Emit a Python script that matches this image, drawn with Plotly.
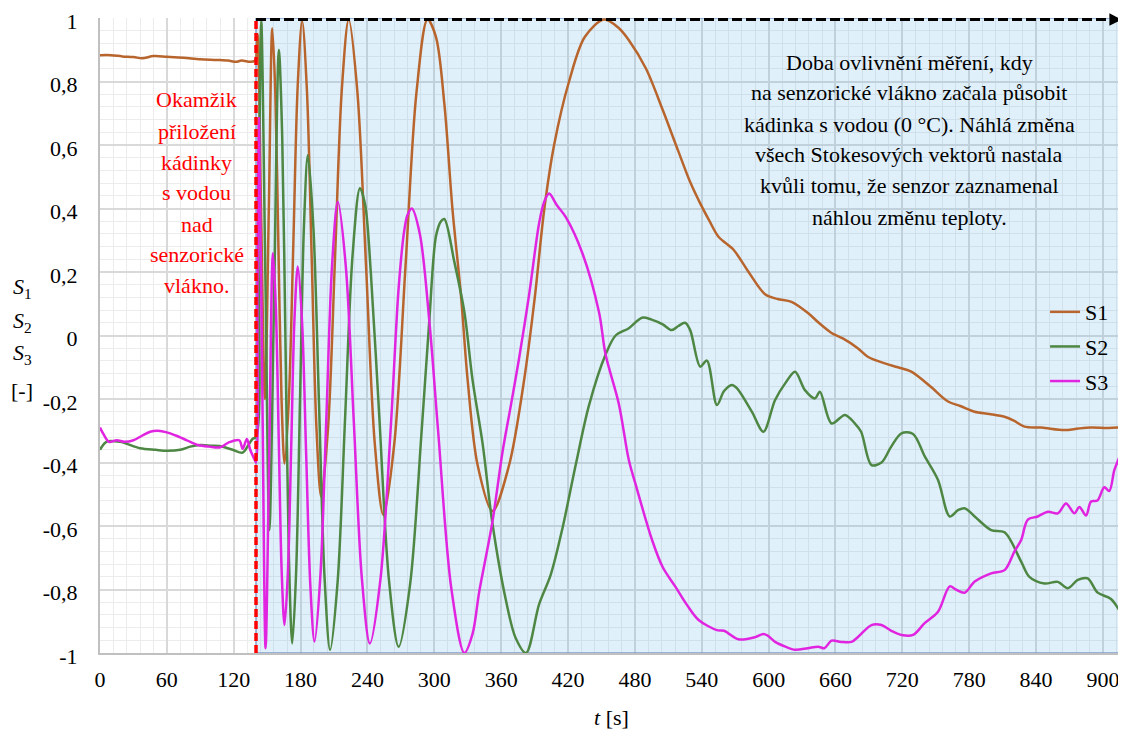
import plotly.graph_objects as go

# ---------------- data ----------------
t_s1 = [0, 10, 20, 30, 38, 48, 60, 75, 90, 105, 115, 122, 127, 135, 139,
        140, 141.5, 144.5, 148, 151.5, 154.6, 157.3, 160.1, 162.9, 165.6, 169.5, 173.5, 177.4,
        181.4, 185.7, 190, 194.2, 198.5, 204.7, 210.9, 217, 223.2, 231, 238.8, 246.5,
        254.3, 264.2, 274.1, 284, 293.9, 301.5, 309, 316.4, 323.9, 329.9, 338.8,
        352.2, 367.2, 380.6, 390.4, 398.5, 407.5, 420.9, 435, 452.2, 465, 474.6,
        490, 505, 519, 530, 538.6, 547, 555, 568.5, 582, 596.8, 608, 620.5, 635.6, 645, 656.4,
        667, 680, 689, 704.3, 716, 728, 745, 761, 772, 784.9, 798, 811.7, 820, 829.6,
        845, 865.4, 878, 889, 905, 918]
s1 = [0.883, 0.883, 0.879, 0.877, 0.873, 0.880, 0.878, 0.875, 0.870, 0.868, 0.866, 0.862, 0.866, 0.862, 0.865,
      0.87, 0.95, 0.40, -0.20, 0.40, 0.968, 0.767, 0.28, -0.20, -0.403, -0.199, 0.29, 0.786,
      0.99, 0.771, 0.241, -0.289, -0.508, -0.288, 0.244, 0.775, 0.995, 0.766, 0.215, -0.337,
      -0.565, -0.337, 0.215, 0.766, 0.995, 0.94, 0.73, 0.393, 0.127, -0.14, -0.407,
      -0.553, -0.407, -0.14, 0.127, 0.393, 0.6, 0.8, 0.94, 0.995, 0.97, 0.93,
      0.84, 0.71, 0.58, 0.48, 0.416, 0.36, 0.311, 0.27, 0.2, 0.13, 0.115, 0.106, 0.07, 0.04, 0.008,
      -0.01, -0.04, -0.067, -0.088, -0.10, -0.114, -0.16, -0.208, -0.222, -0.24, -0.247, -0.256, -0.268, -0.287,
      -0.29, -0.298, -0.293, -0.29, -0.291, -0.289]

t_s2 = [0, 6, 18, 36, 50, 60, 72, 81, 90, 100, 107, 119, 128, 134, 137,
        140, 142.3, 144.7, 148.4, 152, 156.3, 160.5, 163.5, 166.5, 169.5,
        172.5, 176, 179.5, 183, 186.5, 191.5, 196.5, 201.5, 206.5, 213.2,
        219.9, 226.6, 233.3, 238, 243, 250.7, 259.3, 268, 278.3, 288.5,
        295.5, 301.5, 306, 309, 317.9, 327, 334.3, 343.3, 352.2, 364.2,
        373, 382.3, 394, 404.5, 415, 426.9, 438.8, 453.7, 462.7, 474.6,
        486.4, 495, 505, 513, 519, 525, 529.6, 538.6, 544.6, 553.6,
        560, 567, 571.5, 584.9, 595.3, 605.8, 615, 623.7, 632.6, 641.6,
        646, 656.5, 668.5, 677.4, 683, 692.3, 701.3, 710, 719.2, 729.6,
        740, 752, 762.5, 770, 775.9, 784.9, 799.7, 811.7, 826.6, 834,
        847.5, 859.5, 868.4, 877.4, 886.3, 895.3, 907.2, 918]
s2 = [-0.36, -0.334, -0.335, -0.355, -0.36, -0.363, -0.36, -0.35, -0.345, -0.347, -0.348, -0.36, -0.369, -0.34, -0.325,
      -0.32, 0.33, 0.99, 0.19, -0.613, 0.14, 0.90, 0.626, -0.035, -0.696,
      -0.97, -0.745, -0.201, 0.343, 0.568, 0.34, -0.211, -0.762, -0.99, -0.777,
      -0.263, 0.251, 0.464, 0.41, 0.2, -0.26, -0.77, -0.98, -0.783, -0.307,
      0.047, 0.313, 0.36, 0.367, 0.233, 0.073, -0.14, -0.34, -0.593, -0.833,
      -0.953, -1.0, -0.847, -0.753, -0.607, -0.407, -0.22, -0.06, 0.0, 0.023,
      0.056, 0.05, 0.035, 0.017, 0.03, 0.04, 0.017, -0.098, -0.079, -0.219,
      -0.175, -0.156, -0.166, -0.24, -0.303, -0.203, -0.15, -0.114, -0.172, -0.198,
      -0.177, -0.277, -0.25, -0.277, -0.303, -0.408, -0.4, -0.35, -0.308, -0.31,
      -0.38, -0.455, -0.57, -0.55, -0.544, -0.57, -0.613, -0.62, -0.712, -0.76,
      -0.781, -0.776, -0.796, -0.77, -0.765, -0.81, -0.83, -0.886]

t_s3 = [0, 3, 8, 15, 22, 30, 38, 45, 52, 60, 68, 78, 88, 98, 108, 116, 125, 128, 131.8, 134.8, 138.6,
        140, 141.3, 142.6, 145.6, 148.6, 151.9, 155.2, 157.8, 160.4, 163,
        165.6, 168.6, 171.6, 174.5, 177.5, 181.3, 185, 188.8, 192.5, 197.7,
        203, 208.2, 213.4, 220.6, 227.8, 235, 242.2, 251.6, 261, 268,
        273, 276, 279.8, 287, 295.5, 303.4, 315.2, 327, 334.3, 340.3,
        352, 361.2, 368.7, 376, 385, 394, 398.5, 403, 410, 418,
        432.8, 447.8, 453.7, 465.5, 474.6, 480.4, 495.4, 505, 516.3, 527,
        537.2, 553.6, 560, 573, 588, 595.3, 599, 605.8, 615, 623.7,
        635, 644.5, 650, 656.5, 665, 674.4, 680.4, 692.3, 701.3, 710,
        719.2, 729.6, 740, 752, 762.5, 768, 775.9, 784.9, 799.7, 811.7,
        820.6, 826.6, 832.6, 841.5, 850.5, 859.5, 866.9, 874.4, 878.9, 884.8,
        889.3, 895, 901.2, 905.7, 910.2, 914, 918]
s3 = [-0.29, -0.31, -0.335, -0.33, -0.335, -0.33, -0.315, -0.303, -0.30, -0.305, -0.315, -0.33, -0.345, -0.35,
      -0.352, -0.336, -0.33, -0.357, -0.326, -0.36, -0.39,
      -0.40, 0.14, 0.684, -0.15, -0.985, -0.363, 0.259, 0.087, -0.327, -0.74,
      -0.912, -0.747, -0.348, 0.052, 0.217, 0.044, -0.374, -0.791, -0.964, -0.761,
      -0.272, 0.218, 0.421, 0.217, -0.275, -0.766, -0.97, -0.77, -0.285, 0.15,
      0.33, 0.38, 0.40, 0.32, 0.047, -0.3, -0.795, -1.0, -0.94, -0.807,
      -0.59, -0.367, -0.22, -0.073, 0.127, 0.353, 0.42, 0.447, 0.41, 0.373,
      0.26, 0.073, -0.06, -0.214, -0.393, -0.466, -0.644, -0.73, -0.791, -0.85,
      -0.896, -0.928, -0.93, -0.957, -0.95, -0.94, -0.945, -0.965, -0.98, -0.99,
      -0.985, -0.98, -0.985, -0.961, -0.965, -0.965, -0.949, -0.912, -0.912, -0.93,
      -0.943, -0.943, -0.906, -0.87, -0.79, -0.80, -0.81, -0.775, -0.749, -0.739,
      -0.68, -0.644, -0.58, -0.57, -0.555, -0.56, -0.529, -0.56, -0.54, -0.567,
      -0.523, -0.52, -0.478, -0.49, -0.424, -0.39, -0.355]

series_names = ["S1", "S2", "S3"]
series_colors = ["#B8652D", "#4E8743", "#E024E0"]

event_time = 140          # moment the beaker was applied
x_range = [0, 918]
y_tick_vals = [-1, -0.8, -0.6, -0.4, -0.2, 0, 0.2, 0.4, 0.6, 0.8, 1]
y_tick_text = ["-1", "-0,8", "-0,6", "-0,4", "-0,2", "0", "0,2", "0,4", "0,6", "0,8", "1"]

red_lines = ["Okamžik", "přiložení", "kádinky", "s vodou", "nad", "senzorické", "vlákno."]
black_lines = ["Doba ovlivnění měření, kdy", "na senzorické vlákno začala působit",
               "kádinka s vodou (0 °C). Náhlá změna", "všech Stokesových vektorů nastala",
               "kvůli tomu, že senzor zaznamenal", "náhlou změnu teploty."]
y_title_lines = ["<i>S</i><sub>1</sub>", "<i>S</i><sub>2</sub>", "<i>S</i><sub>3</sub>", "[-]"]

FONT = "'Liberation Serif', 'Times New Roman', 'DejaVu Serif', serif"

# ---------------- figure ----------------
# (the page body has an 8px margin, so the figure is sized 8px smaller)
fig = go.Figure()
for name, t, s, col in zip(series_names, [t_s1, t_s2, t_s3], [s1, s2, s3], series_colors):
    fig.add_trace(go.Scatter(x=t, y=s, mode="lines", name=name, legendgroup=name,
                             line=dict(color=col, width=2.5, shape="spline", smoothing=0.9)))

fig.update_layout(
    width=1118, height=722,
    margin=dict(l=92, r=3, t=10, b=77, autoexpand=False),
    plot_bgcolor="white", paper_bgcolor="white",
    font=dict(family=FONT, size=22, color="black"),
    showlegend=True,
    legend=dict(x=0.9238, y=0.570, xanchor="left", yanchor="top", bgcolor="rgba(0,0,0,0)",
                font=dict(family=FONT, size=22), tracegroupgap=3, itemwidth=30),
)

fig.update_xaxes(range=x_range, tickmode="linear", tick0=0, dtick=60, automargin=False,
                 showgrid=True, gridcolor="#d9d9d9", gridwidth=1.5,
                 minor=dict(tickmode="linear", tick0=0, dtick=12, showgrid=True,
                            gridcolor="#ececec", gridwidth=1),
                 showline=True, linecolor="#c0c0c0", linewidth=2, zeroline=False, ticks="",
                 ticklabelstandoff=6, ticklabeloverflow="allow",
                 tickfont=dict(family=FONT, size=22),
                 title=dict(text="<i>t</i> [s]", font=dict(family=FONT, size=22), standoff=18))
fig.update_yaxes(range=[-1, 1], tickmode="array", tickvals=y_tick_vals, ticktext=y_tick_text,
                 automargin=False,
                 showgrid=True, gridcolor="#d9d9d9", gridwidth=1.5,
                 minor=dict(tickmode="linear", tick0=-1, dtick=0.04, showgrid=True,
                            gridcolor="#ececec", gridwidth=1),
                 showline=True, linecolor="#c0c0c0", linewidth=2, zeroline=False, ticks="",
                 ticklabelstandoff=16, ticklabeloverflow="allow", ticklabelshift=3,
                 tickfont=dict(family=FONT, size=22))

# shaded "influenced" region
fig.add_shape(type="rect", xref="x", yref="y", x0=event_time, x1=x_range[1], y0=-1, y1=1,
              fillcolor="rgba(100,180,235,0.2)", line=dict(color="rgba(120,150,195,0.9)", width=1.5),
              layer="between")
# red dashed vertical line
fig.add_shape(type="line", xref="x", yref="y", x0=event_time, x1=event_time, y0=-1, y1=1,
              line=dict(color="#ff0000", width=3.5, dash="8px,4px"), layer="above")
# black dashed arrow along the top
fig.add_shape(type="line", xref="x", yref="y", x0=event_time, x1=x_range[1] - 8, y0=0.995, y1=0.995,
              line=dict(color="black", width=3, dash="10px,4px"), layer="above")
fig.add_annotation(x=x_range[1] - 1, y=0.995, ax=x_range[1] - 10, ay=0.995, axref="x", ayref="y",
                   xref="x", yref="y", text="", showarrow=True, arrowhead=2, arrowsize=1,
                   arrowwidth=2.5, arrowcolor="black")

# red annotation (one line each)
red_y = [0.742, 0.644, 0.546, 0.449, 0.351, 0.254, 0.156]
for txt, yy in zip(red_lines, red_y):
    fig.add_annotation(x=87, y=yy, xref="x", yref="y", text=txt, showarrow=False,
                       font=dict(family=FONT, size=22, color="#ff0000"), xanchor="center", yanchor="middle")

black_y = [0.861, 0.764, 0.666, 0.569, 0.471, 0.373]
for txt, yy in zip(black_lines, black_y):
    fig.add_annotation(x=726, y=yy, xref="x", yref="y", text=txt, showarrow=False,
                       font=dict(family=FONT, size=22, color="black"), xanchor="center", yanchor="middle")

# stacked y-axis title
title_y = [0.15, 0.043, -0.058, -0.172]
for txt, yy in zip(y_title_lines, title_y):
    fig.add_annotation(x=-0.076, y=yy, xref="paper", yref="y", text=txt, showarrow=False,
                       font=dict(family=FONT, size=22, color="black"), xanchor="center", yanchor="middle")

fig.write_html("out.html")
